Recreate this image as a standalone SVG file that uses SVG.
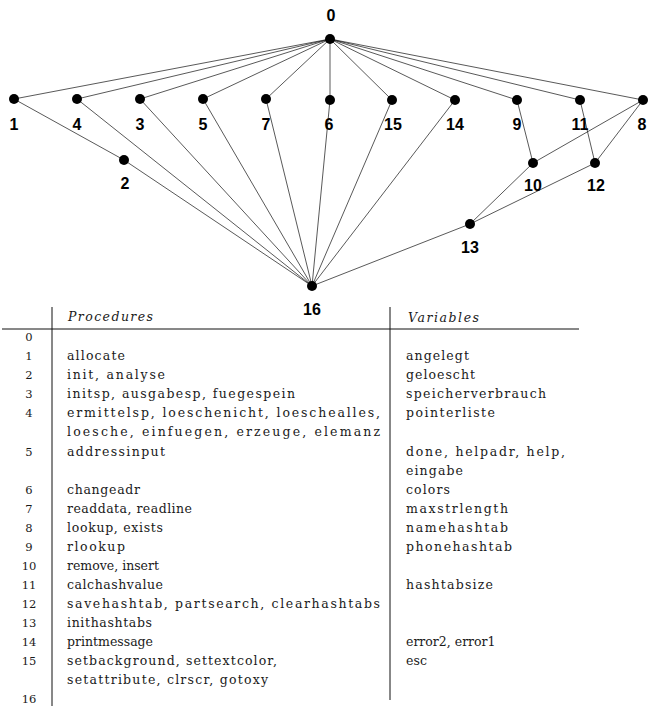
<svg xmlns="http://www.w3.org/2000/svg" width="648" height="706" viewBox="0 0 648 706">
<style>
.e{stroke:#111;stroke-width:0.7;fill:none}
.d{fill:#000}
.lb{font-family:"Liberation Sans",Arial,sans-serif;font-weight:bold;font-size:16px;text-anchor:middle;fill:#000}
.t{font-family:"DejaVu Serif","Liberation Serif",serif;font-size:12.5px;fill:#1a1a1a}
.n{font-family:"DejaVu Serif","Liberation Serif",serif;font-size:11.5px;fill:#1a1a1a;text-anchor:middle}
.h{font-family:"DejaVu Serif","Liberation Serif",serif;font-size:12.5px;font-style:italic;fill:#1a1a1a}
.r{stroke:#111;stroke-width:1;fill:none}
</style>
<rect width="648" height="706" fill="#fff"/>
<g id="connectors">
<line class="e" x1="330" y1="39" x2="14" y2="99"/>
<line class="e" x1="330" y1="39" x2="77" y2="99"/>
<line class="e" x1="330" y1="39" x2="140" y2="99"/>
<line class="e" x1="330" y1="39" x2="203" y2="99"/>
<line class="e" x1="330" y1="39" x2="266" y2="99"/>
<line class="e" x1="330" y1="39" x2="330" y2="100"/>
<line class="e" x1="330" y1="39" x2="392" y2="100"/>
<line class="e" x1="330" y1="39" x2="455" y2="100"/>
<line class="e" x1="330" y1="39" x2="517" y2="100"/>
<line class="e" x1="330" y1="39" x2="580" y2="100"/>
<line class="e" x1="330" y1="39" x2="643" y2="100"/>
<line class="e" x1="14" y1="99" x2="124" y2="160"/>
<line class="e" x1="124" y1="160" x2="312" y2="286"/>
<line class="e" x1="77" y1="99" x2="312" y2="286"/>
<line class="e" x1="140" y1="99" x2="312" y2="286"/>
<line class="e" x1="203" y1="99" x2="312" y2="286"/>
<line class="e" x1="266" y1="99" x2="312" y2="286"/>
<line class="e" x1="330" y1="100" x2="312" y2="286"/>
<line class="e" x1="392" y1="100" x2="312" y2="286"/>
<line class="e" x1="455" y1="100" x2="312" y2="286"/>
<line class="e" x1="517" y1="100" x2="533" y2="163"/>
<line class="e" x1="580" y1="100" x2="595" y2="163"/>
<line class="e" x1="643" y1="100" x2="533" y2="163"/>
<line class="e" x1="643" y1="100" x2="595" y2="163"/>
<line class="e" x1="533" y1="163" x2="470" y2="224"/>
<line class="e" x1="595" y1="163" x2="470" y2="224"/>
<line class="e" x1="470" y1="224" x2="312" y2="286"/>
</g>
<g id="n0"><circle class="d" cx="330" cy="39" r="5"/><text class="lb" x="331" y="21">0</text></g>
<g id="n1"><circle class="d" cx="14" cy="99" r="5"/><text class="lb" x="14" y="130">1</text></g>
<g id="n4"><circle class="d" cx="77" cy="99" r="5"/><text class="lb" x="77" y="130">4</text></g>
<g id="n3"><circle class="d" cx="140" cy="99" r="5"/><text class="lb" x="140" y="130">3</text></g>
<g id="n5"><circle class="d" cx="203" cy="99" r="5"/><text class="lb" x="203" y="130">5</text></g>
<g id="n7"><circle class="d" cx="266" cy="99" r="5"/><text class="lb" x="266" y="130">7</text></g>
<g id="n6"><circle class="d" cx="330" cy="100" r="5"/><text class="lb" x="329" y="130">6</text></g>
<g id="n15"><circle class="d" cx="392" cy="100" r="5"/><text class="lb" x="393" y="130">15</text></g>
<g id="n14"><circle class="d" cx="455" cy="100" r="5"/><text class="lb" x="455" y="130">14</text></g>
<g id="n9"><circle class="d" cx="517" cy="100" r="5"/><text class="lb" x="517" y="130">9</text></g>
<g id="n11"><circle class="d" cx="580" cy="100" r="5"/><text class="lb" x="580" y="130">11</text></g>
<g id="n8"><circle class="d" cx="643" cy="100" r="5"/><text class="lb" x="642" y="130">8</text></g>
<g id="n2"><circle class="d" cx="124" cy="160" r="5"/><text class="lb" x="125" y="189">2</text></g>
<g id="n10"><circle class="d" cx="533" cy="163" r="5"/><text class="lb" x="533" y="191">10</text></g>
<g id="n12"><circle class="d" cx="595" cy="163" r="5"/><text class="lb" x="596" y="191">12</text></g>
<g id="n13"><circle class="d" cx="470" cy="224" r="5"/><text class="lb" x="470" y="253">13</text></g>
<g id="n16"><circle class="d" cx="312" cy="286" r="5"/><text class="lb" x="312" y="315">16</text></g>
<g id="table">
<line class="r" x1="2" y1="329" x2="579" y2="329"/>
<line class="r" x1="52" y1="307" x2="52" y2="706"/>
<line class="r" x1="390" y1="307" x2="390" y2="700"/>
<text class="h" x="68" y="321" textLength="85" lengthAdjust="spacing">Procedures</text>
<text class="h" x="408" y="322" textLength="71" lengthAdjust="spacing">Variables</text>
<text class="n" x="29" y="341">0</text>
<text class="n" x="29" y="360">1</text>
<text class="n" x="29" y="379">2</text>
<text class="n" x="29" y="398">3</text>
<text class="n" x="29" y="417">4</text>
<text class="n" x="29" y="455.5">5</text>
<text class="n" x="29" y="494">6</text>
<text class="n" x="29" y="513">7</text>
<text class="n" x="29" y="532">8</text>
<text class="n" x="29" y="551">9</text>
<text class="n" x="29" y="570">10</text>
<text class="n" x="29" y="589">11</text>
<text class="n" x="29" y="608">12</text>
<text class="n" x="29" y="627">13</text>
<text class="n" x="29" y="646">14</text>
<text class="n" x="29" y="665">15</text>
<text class="n" x="29" y="703">16</text>
<text class="t" x="67" y="360" textLength="58" lengthAdjust="spacing">allocate</text>
<text class="t" x="67" y="379" textLength="98" lengthAdjust="spacing">init, analyse</text>
<text class="t" x="67" y="398" textLength="228" lengthAdjust="spacing">initsp, ausgabesp, fuegespein</text>
<text class="t" x="67" y="417" textLength="313" lengthAdjust="spacing">ermittelsp, loeschenicht, loeschealles,</text>
<text class="t" x="67" y="436" textLength="313" lengthAdjust="spacing">loesche, einfuegen, erzeuge, elemanz</text>
<text class="t" x="67" y="455.5" textLength="98" lengthAdjust="spacing">addressinput</text>
<text class="t" x="67" y="494" textLength="73" lengthAdjust="spacing">changeadr</text>
<text class="t" x="67" y="513" textLength="125" lengthAdjust="spacing">readdata, readline</text>
<text class="t" x="67" y="532" textLength="96" lengthAdjust="spacing">lookup, exists</text>
<text class="t" x="67" y="551" textLength="58" lengthAdjust="spacing">rlookup</text>
<text class="t" x="67" y="570">remove, insert</text>
<text class="t" x="67" y="589" textLength="96" lengthAdjust="spacing">calchashvalue</text>
<text class="t" x="67" y="608" textLength="313" lengthAdjust="spacing">savehashtab, partsearch, clearhashtabs</text>
<text class="t" x="67" y="627" textLength="85" lengthAdjust="spacing">inithashtabs</text>
<text class="t" x="67" y="646">printmessage</text>
<text class="t" x="67" y="665" textLength="210" lengthAdjust="spacing">setbackground, settextcolor,</text>
<text class="t" x="67" y="684" textLength="201" lengthAdjust="spacing">setattribute, clrscr, gotoxy</text>
<text class="t" x="406" y="360" textLength="63" lengthAdjust="spacing">angelegt</text>
<text class="t" x="406" y="379" textLength="69" lengthAdjust="spacing">geloescht</text>
<text class="t" x="406" y="398" textLength="140" lengthAdjust="spacing">speicherverbrauch</text>
<text class="t" x="406" y="417" textLength="89" lengthAdjust="spacing">pointerliste</text>
<text class="t" x="406" y="455.5" textLength="159" lengthAdjust="spacing">done, helpadr, help,</text>
<text class="t" x="406" y="475" textLength="57" lengthAdjust="spacing">eingabe</text>
<text class="t" x="406" y="494" textLength="44" lengthAdjust="spacing">colors</text>
<text class="t" x="406" y="513" textLength="102" lengthAdjust="spacing">maxstrlength</text>
<text class="t" x="406" y="532" textLength="102" lengthAdjust="spacing">namehashtab</text>
<text class="t" x="406" y="551" textLength="106" lengthAdjust="spacing">phonehashtab</text>
<text class="t" x="406" y="589" textLength="87" lengthAdjust="spacing">hashtabsize</text>
<text class="t" x="406" y="646">error2, error1</text>
<text class="t" x="406" y="665" textLength="21" lengthAdjust="spacing">esc</text>
</g>
</svg>
